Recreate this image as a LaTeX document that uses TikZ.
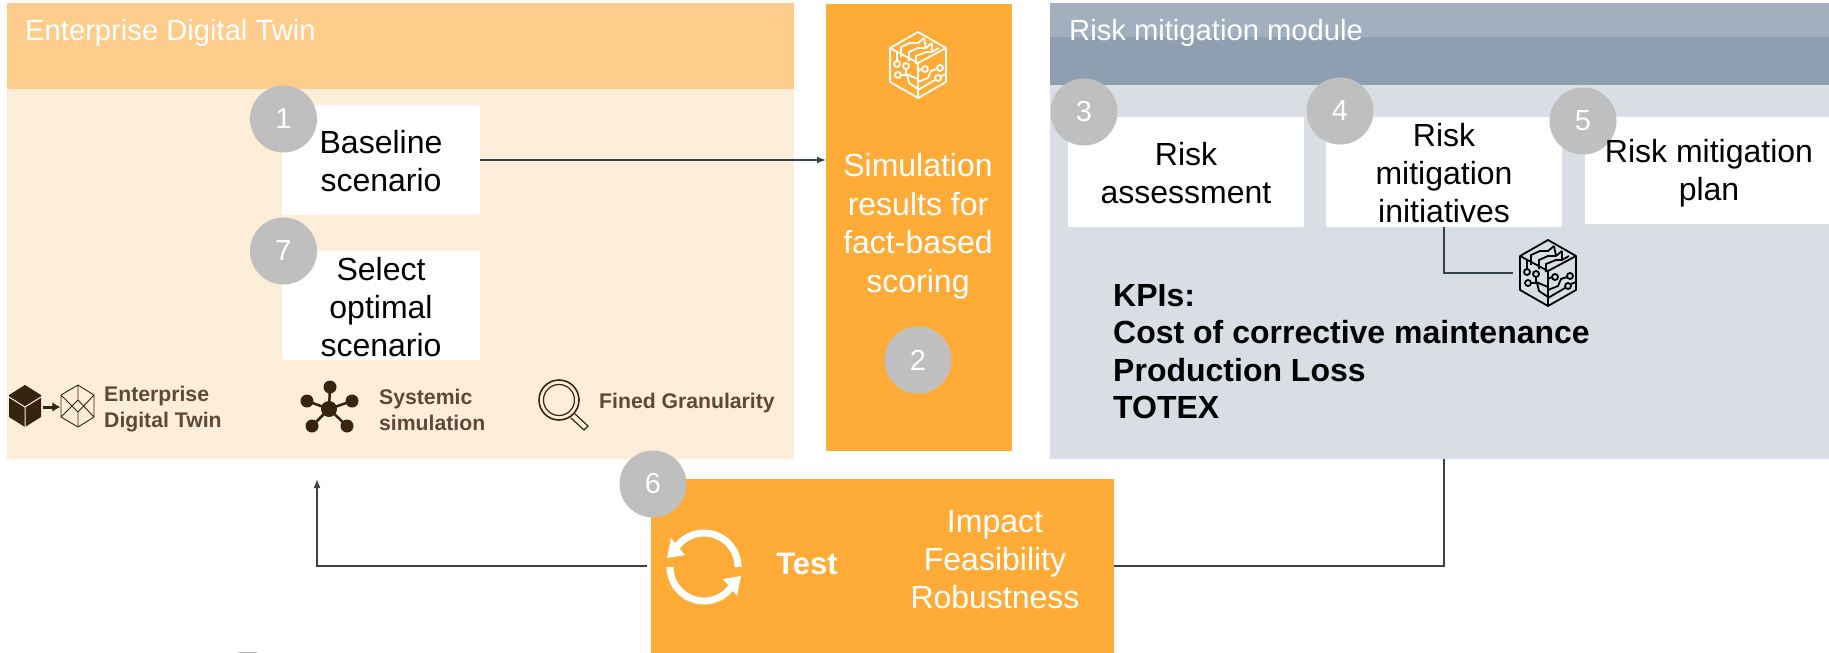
\documentclass[tikz,border=0pt]{standalone}
\usepackage{fontspec}
\setmainfont{Liberation Sans}
\usetikzlibrary{positioning}
\usetikzlibrary{calc}
\usetikzlibrary{arrows.meta}

\definecolor{edtbody}{HTML}{FEEDD8}
\definecolor{edthead}{HTML}{FECD8C}
\definecolor{simorange}{HTML}{FFAB38}
\definecolor{riskbody}{HTML}{D9DEE5}
\definecolor{riskhead}{HTML}{A1AFBF}
\definecolor{riskband}{HTML}{8F9FB2}
\definecolor{badge}{HTML}{BFBFBF}
\definecolor{iconbrown}{HTML}{35240E}
\definecolor{legendtext}{HTML}{5A4B38}
\definecolor{linkdark}{HTML}{36424C}

\newcommand{\topstrut}[1][25.5pt]{\rule{0pt}{#1}}

\tikzset{
	panel/.style={rectangle, inner sep=0pt, outer sep=0pt},
	whitebox/.style={panel, fill=white, align=center, font=\fontsize{32}{38}\selectfont},
	stepnum/.style={circle, fill=badge, text=white, inner sep=0pt, minimum size=67pt, font=\fontsize{29}{34}\selectfont},
	headtext/.style={anchor=west, inner sep=0pt, text=white, font=\fontsize{29.2}{34}\selectfont},
	legend/.style={anchor=west, inner sep=0pt, align=left, text=legendtext, font=\fontsize{21.2}{26}\selectfont\bfseries},
	link/.style={draw=linkdark, line width=1.6pt},
	chipcube/.pic={
		\draw[pic actions, line join=round] (0,-33) -- (28,-17) -- (28,17) -- (0,33) -- (-28,17) -- (-28,-17) -- cycle;
		\draw[pic actions, line join=round] (-28,-17) -- (0,-2) -- (28,-17) (0,-2) -- (0,33);
		% top face
		\draw[pic actions] (-17,-8) -- (-17,-18) -- (-8,-22) -- (0,-22) -- (6,-27);
		\draw[pic actions] (-9,-4) -- (-9,-13) -- (0,-17) -- (8,-17) -- (14,-22);
		\draw[pic actions] (-2,-1) -- (-2,-9) -- (8,-13) -- (14,-13) -- (21,-17);
		\draw[pic actions] (6,-27) -- (8,-17) (14,-22) -- (14,-13);
		% left face
		\draw[pic actions] (-21,-14) -- (-21,-4);
		\draw[pic actions] (-21,-1) circle (3);
		\draw[pic actions] (-12,1) circle (3);
		\draw[pic actions] (-20,10) circle (3);
		\draw[pic actions] (-12,4) -- (-12,9) -- (0,14);
		\draw[pic actions] (-17,10) -- (-11,10) -- (-9,18) -- (0,24);
		% right face
		\draw[pic actions] (7,4) circle (3);
		\draw[pic actions] (22,3) circle (3);
		\draw[pic actions] (20,13) circle (3);
		\draw[pic actions] (4,4) -- (0,6);
		\draw[pic actions] (0,17) -- (10,13) -- (13,6) -- (19,4);
		\draw[pic actions] (0,25) -- (17,15);
		\draw[pic actions] (23,11) -- (28,9);
	}
}

\begin{document}
\begin{tikzpicture}[x=1pt, y=-1pt]
	\useasboundingbox (0,0) rectangle (1829,653);

	%%%% Enterprise Digital Twin %%%%

	\node (edt) [panel, fill=edtbody, minimum width=787pt, minimum height=456pt] at (400.5,231) {};
	\node (edthead) [panel, fill=edthead, minimum width=787pt, minimum height=86pt] at (400.5,46) {};
	\node (edttitle) [headtext] at (25,33) {Enterprise Digital Twin};

	\node (baseline) [whitebox, minimum width=198pt, minimum height=110pt] at (381,160) {\topstrut Baseline\\scenario};
	\node (optimal) [whitebox, minimum width=198pt, minimum height=109pt] at (381,305.5) {\topstrut[27pt]Select\\optimal\\scenario};

	\node (n1) [stepnum] at ($(baseline.north west)+(1.5,14)$) {1};
	\node (n7) [stepnum] at ($(optimal.north west)+(1.5,0)$) {7};

	%%% legend

	\node (cubesolid) [inner sep=0pt, minimum width=32pt, minimum height=42pt] at (25,406) {};
	\fill[iconbrown] (9,395) -- (25,385) -- (41,395) -- (41,417) -- (25,427) -- (9,417) -- cycle;
	\draw[edtbody, line width=1pt] (9,397) -- (25,407) -- (41,397) (25,407) -- (25,427);
	\node (cubewire) [inner sep=0pt, minimum width=33pt, minimum height=42pt] at (78,406) {};
	\draw[iconbrown, line width=0.9pt, line join=round] (61,395) -- (78,385) -- (94,395) -- (94,417) -- (78,427) -- (61,417) -- cycle
		(78,385) -- (78,400) (78,412) -- (78,427) (61,395) -- (78,412) -- (94,395) (61,417) -- (78,400) -- (94,417);
	\draw[-{Latex[length=8pt,width=10pt]}, iconbrown, line width=3pt] (cubesolid.east)+(2,1) -- ($(cubewire.west)+(-1,1)$);
	\node (legendedt) [legend] at (104,409) {Enterprise\\Digital Twin};

	\node (hub) [circle, fill=iconbrown, inner sep=0pt, minimum size=16pt] at (329,409) {};
	\foreach \x/\y in {330/387, 307/401, 352/401, 312/426, 347/426}
	{
		\draw[iconbrown, line width=2.5pt] (hub.center) -- (\x,\y);
		\fill[iconbrown] (\x,\y) circle (6.5);
	}
	\node (legendsim) [legend] at (379,410) {Systemic\\simulation};

	\node (lens) [circle, draw=iconbrown, line width=1.6pt, inner sep=0pt, minimum size=40pt] at (559,400) {};
	\draw[iconbrown, line width=1.2pt] (lens.center) circle (15.5);
	\draw[iconbrown, line width=1.2pt, line cap=round] (571,418) -- (584,430) -- (588,426) -- (575,414);
	\node (legendgran) [legend] at (599,403) {Fined Granularity};
	\fill[black!25] (238,652) rectangle (257,653);

	%%%% Simulation results %%%%

	\node (sim) [panel, fill=simorange, minimum width=186pt, minimum height=447pt] at (919,227.5) {};
	\node (simtext) [inner sep=0pt, text=white, align=center, font=\fontsize{32}{38.5}\selectfont] at (918,226) {Simulation\\results for\\fact-based\\scoring};
	\node (n2) [stepnum] at (918,360) {2};
	\pic[draw=white, line width=1.8pt] at (918,65) {chipcube};

	%%%% Risk mitigation module %%%%

	\node (risk) [panel, fill=riskbody, minimum width=779pt, minimum height=456pt] at (1439.5,231) {};
	\node (riskhead) [panel, fill=riskhead, minimum width=779pt, minimum height=82pt] at (1439.5,44) {};
	\node (riskband) [panel, fill=riskband, minimum width=779pt, minimum height=48pt] at (1439.5,61) {};
	\node (risktitle) [headtext] at (1069,33) {Risk mitigation module};

	\node (assess) [whitebox, minimum width=236pt, minimum height=110pt] at (1186,172) {\topstrut Risk\\assessment};
	\node (initiatives) [whitebox, minimum width=236pt, minimum height=110pt] at (1444,172) {\topstrut Risk\\mitigation\\initiatives};
	\node (plan) [whitebox, minimum width=244pt, minimum height=107pt] at (1707,170.5) {};

	\node (n3) [stepnum] at ($(assess.north west)+(16,-5)$) {3};
	\node (n4) [stepnum] at ($(initiatives.north west)+(14,-6)$) {4};
	\node (n5) [stepnum] at ($(plan.north west)+(-2,4)$) {5};
	\node (plantext) [inner sep=0pt, align=center, font=\fontsize{32}{38}\selectfont] at ($(plan.center)+(2,2.5)$) {Risk mitigation\\plan};

	\node (chipb) [inner sep=0pt, minimum width=70pt, minimum height=66pt] at (1548,273) {};
	\pic[draw=black, line width=1.8pt] at (1548,273) {chipcube};
	\draw[link] (initiatives.south) |- (chipb.west);

	\node (kpis) [anchor=north west, inner sep=0pt, align=left, font=\fontsize{32}{37.4}\selectfont\bfseries] at (1113,284) {KPIs:\\Cost of corrective maintenance\\Production Loss\\TOTEX};

	%%%% Test %%%%

	\node (test) [panel, fill=simorange, minimum width=463pt, minimum height=174pt] at (882.5,566) {};
	\node (n6) [stepnum] at ($(test.north west)+(2,5)$) {6};
	\node (testlabel) [inner sep=0pt, text=white, font=\fontsize{31}{38}\selectfont\bfseries] at (807,564) {Test};
	\node (testcrit) [inner sep=0pt, text=white, align=center, font=\fontsize{32}{38}\selectfont] at (995,559.5) {Impact\\Feasibility\\Robustness};

	\node (loop) [inner sep=0pt, minimum size=74pt] at (704,567) {};
	\foreach \ang in {0,180}
	{
		\begin{scope}[shift={(loop.center)}, rotate=\ang]
			\draw[white, line width=7pt] (34,0) arc (0:-158:34);
			\fill[white] (-37,-9) -- (-19,-12) -- (-33,-29) -- cycle;
		\end{scope}
	}

	%%%% connectors %%%%

	\coordinate (backtip) at (317,479);
	\draw[link, -{Latex[length=9pt,width=7pt]}] (baseline.east) -- (sim.west |- baseline.east);
	\draw[link] (initiatives.south |- risk.south) |- (test.east);
	\draw[link, shorten <=4pt, -{Latex[length=9pt,width=7pt]}] (test.west) -| (backtip);

\end{tikzpicture}
\end{document}
